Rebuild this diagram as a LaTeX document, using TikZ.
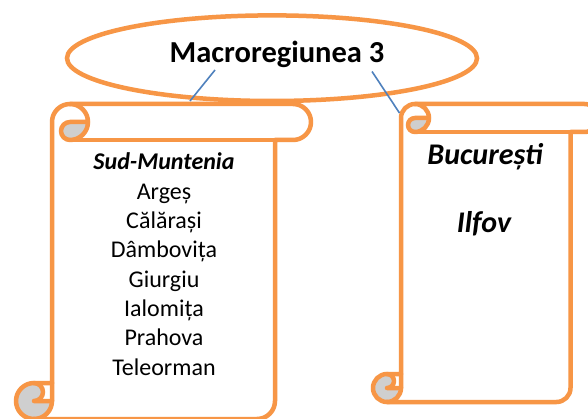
\documentclass[tikz,border=0pt]{standalone}
\usepackage{fontspec}
\setmainfont{Carlito}
\usetikzlibrary{shapes.geometric}
\definecolor{scrollorange}{HTML}{F79646}
\definecolor{linkblue}{HTML}{4F81BD}
\definecolor{curlgray}{HTML}{CFCFCF}
\tikzset{
  scrollline/.style={draw=scrollorange,line width=4.5pt,line join=round,line cap=round},
  link/.style={draw=linkblue,line width=1.6pt},
  listtext/.style={font=\fontsize{24}{29}\selectfont,anchor=base,inner sep=0pt},
  headtext/.style={font=\fontsize{24}{29}\selectfont\bfseries\itshape,anchor=base,inner sep=0pt},
  bigheadtext/.style={font=\fontsize{30}{36}\selectfont\bfseries\itshape,anchor=base,inner sep=0pt},
  titletext/.style={font=\fontsize{30.5}{36}\selectfont\bfseries,anchor=base,inner sep=0pt}
}
% vertical scroll: left, top, right, bottom (pixel, y down), roll size
\newcommand\VScroll[5]{%
 \pgfmathsetmacro\vsL{#1}\pgfmathsetmacro\vsT{-(#2)}%
 \pgfmathsetmacro\vsR{#3}\pgfmathsetmacro\vsB{-(#4)}%
 \pgfmathsetmacro\vsc{#5}\pgfmathsetmacro\vsh{#5/2}\pgfmathsetmacro\vsq{#5/4}%
 \pgfmathsetmacro\vsxc{\vsL+\vsc}\pgfmathsetmacro\vsxh{\vsL+\vsh}%
 \pgfmathsetmacro\vsxthree{\vsL+\vsc+\vsh}\pgfmathsetmacro\vsxfour{\vsL+2*\vsc}%
 \pgfmathsetmacro\vsxsix{\vsR-\vsc}\pgfmathsetmacro\vsxseven{\vsR-\vsh}%
 \pgfmathsetmacro\vsyTh{\vsT-\vsh}\pgfmathsetmacro\vsyTc{\vsT-\vsc}%
 \pgfmathsetmacro\vsyBc{\vsB+\vsc}\pgfmathsetmacro\vsyBh{\vsB+\vsh}%
 \fill[white] (\vsxc,\vsyBc) -- (\vsxc,\vsyTh) arc[start angle=180,delta angle=-90,radius=\vsh]
   -- (\vsxseven,\vsT) arc[start angle=90,delta angle=-180,radius=\vsh]
   -- (\vsxsix,\vsyTc) -- (\vsxsix,\vsyBh) arc[start angle=0,delta angle=-90,radius=\vsh]
   -- (\vsxh,\vsB) arc[start angle=-90,delta angle=-180,radius=\vsh] -- cycle;
 \fill[curlgray] (\vsxfour,\vsyTh) arc[start angle=0,delta angle=-90,radius=\vsh]
   arc[start angle=-90,delta angle=-180,radius=\vsq] -- cycle;
 \fill[curlgray] (\vsxh,\vsyBh) circle[radius=\vsh];
 \fill[white] (\vsxh,\vsyBc) -- (\vsxc,\vsyBc) -- (\vsxc,\vsyBh) -- (\vsxh,\vsyBh)
   arc[start angle=-90,delta angle=180,radius=\vsq] -- cycle;
 \draw[scrollline] (\vsxc,\vsyBc) -- (\vsxc,\vsyTh) arc[start angle=180,delta angle=-90,radius=\vsh]
   -- (\vsxseven,\vsT) arc[start angle=90,delta angle=-180,radius=\vsh]
   -- (\vsxsix,\vsyTc) -- (\vsxsix,\vsyBh) arc[start angle=0,delta angle=-90,radius=\vsh]
   -- (\vsxh,\vsB) arc[start angle=-90,delta angle=-180,radius=\vsh] -- cycle;
 \draw[scrollline] (\vsxthree,\vsT) arc[start angle=90,delta angle=-180,radius=\vsh]
   arc[start angle=-90,delta angle=-180,radius=\vsq] -- (\vsxfour,\vsyTh);
 \draw[scrollline] (\vsxsix,\vsyTc) -- (\vsxthree,\vsyTc);
 \draw[scrollline] (\vsxh,\vsyBc) arc[start angle=90,delta angle=-180,radius=\vsq] -- (\vsxc,\vsyBh);
 \draw[scrollline] (\vsxh,\vsB) arc[start angle=-90,delta angle=90,radius=\vsh] -- (\vsxc,\vsyBc);
}
\begin{document}
\begin{tikzpicture}[x=1pt,y=1pt]
\useasboundingbox (0,0) rectangle (588,-419);
\clip (0,0) rectangle (588,-419);
\fill[white] (0,0) rectangle (588,-419);
% title ellipse
\node[draw=scrollorange,line width=4.5pt,fill=white,ellipse,inner sep=0pt,
      minimum width=410pt,minimum height=85.6pt] (macro) at (272,-58.2) {};
\node[titletext] (title) at (277,-63) {Macroregiunea 3};
% scrolls
\VScroll{16}{104}{311}{419}{36}
\VScroll{373}{104}{598.5}{402}{28}
% left scroll texts
\node[headtext] (sud) at (164,-170) {Sud-Muntenia};
\node[listtext] (ag) at (164,-199.3) {Argeș};
\node[listtext] (cl) at (164,-228.6) {Călărași};
\node[listtext] (db) at (164,-257.9) {Dâmbovița};
\node[listtext] (gr) at (164,-287.2) {Giurgiu};
\node[listtext] (il) at (164,-316.5) {Ialomița};
\node[listtext] (ph) at (164,-345.8) {Prahova};
\node[listtext] (tr) at (164,-375.1) {Teleorman};
% right scroll texts
\node[bigheadtext] (buc) at (485,-165) {București};
\node[bigheadtext] (ilf) at (484,-233) {Ilfov};
% connectors
\coordinate (macroL) at (215,-70);
\coordinate (macroR) at (372,-71.5);
\coordinate (sudtop) at (190,-101);
\coordinate (buctop) at (399.5,-113);
\draw[link] (macroL) -- (sudtop);
\draw[link] (macroR) -- (buctop);
\end{tikzpicture}
\end{document}
